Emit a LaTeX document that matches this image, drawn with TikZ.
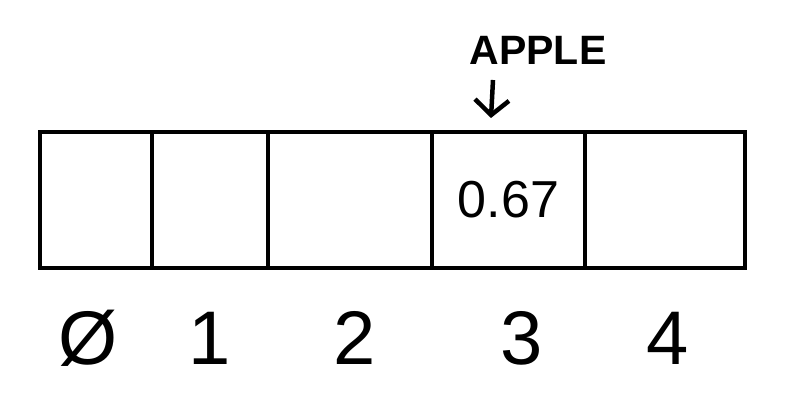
\documentclass[tikz,border=0pt]{standalone}
\usepackage{fontspec}
\setmainfont{Liberation Sans}
\usepackage{tikz}
\usetikzlibrary{arrows.meta}
\tikzstyle{slot} = [draw=black, line width=4.5pt, rectangle, minimum height=136pt,
    inner sep=0pt]
\tikzstyle{idx} =[font=\fontsize{76}{76}\selectfont]

\begin{document}
\begin{tikzpicture}[x=1pt, y=-1pt]
\useasboundingbox (0,0) rectangle (788,406);
\node [slot, minimum width=112pt] (s0) at (96,200) {};
\node [slot, minimum width=116pt] (s1) at (210,200) {};
\node [slot, minimum width=164pt] (s2) at (350,200) {};
\node [slot, minimum width=153pt] (s3) at (508.5,200) {\fontsize{52}{52}\selectfont 0.67};
\node [slot, minimum width=160pt] (s4) at (665,200) {};
% indices
\node[idx] (i0) at (88,338) {Ø};
\node[idx] (i1) at (210,338) {1};
\node[idx] (i2) at (355,338) {2};
\node[idx] (i3) at (522,338) {3};
\node[idx] (i4) at (668,338) {4};
\node[font=\fontsize{41}{41}\selectfont\bfseries] (apple) at (538,50) {APPLE};
\coordinate (a0) at (493,80);
\coordinate (a1) at (491,118);
\draw[line width=4.5pt, -{Straight Barb[length=15pt,width=34pt]}] (a0) -- (a1);
\end{tikzpicture}
\end{document}
